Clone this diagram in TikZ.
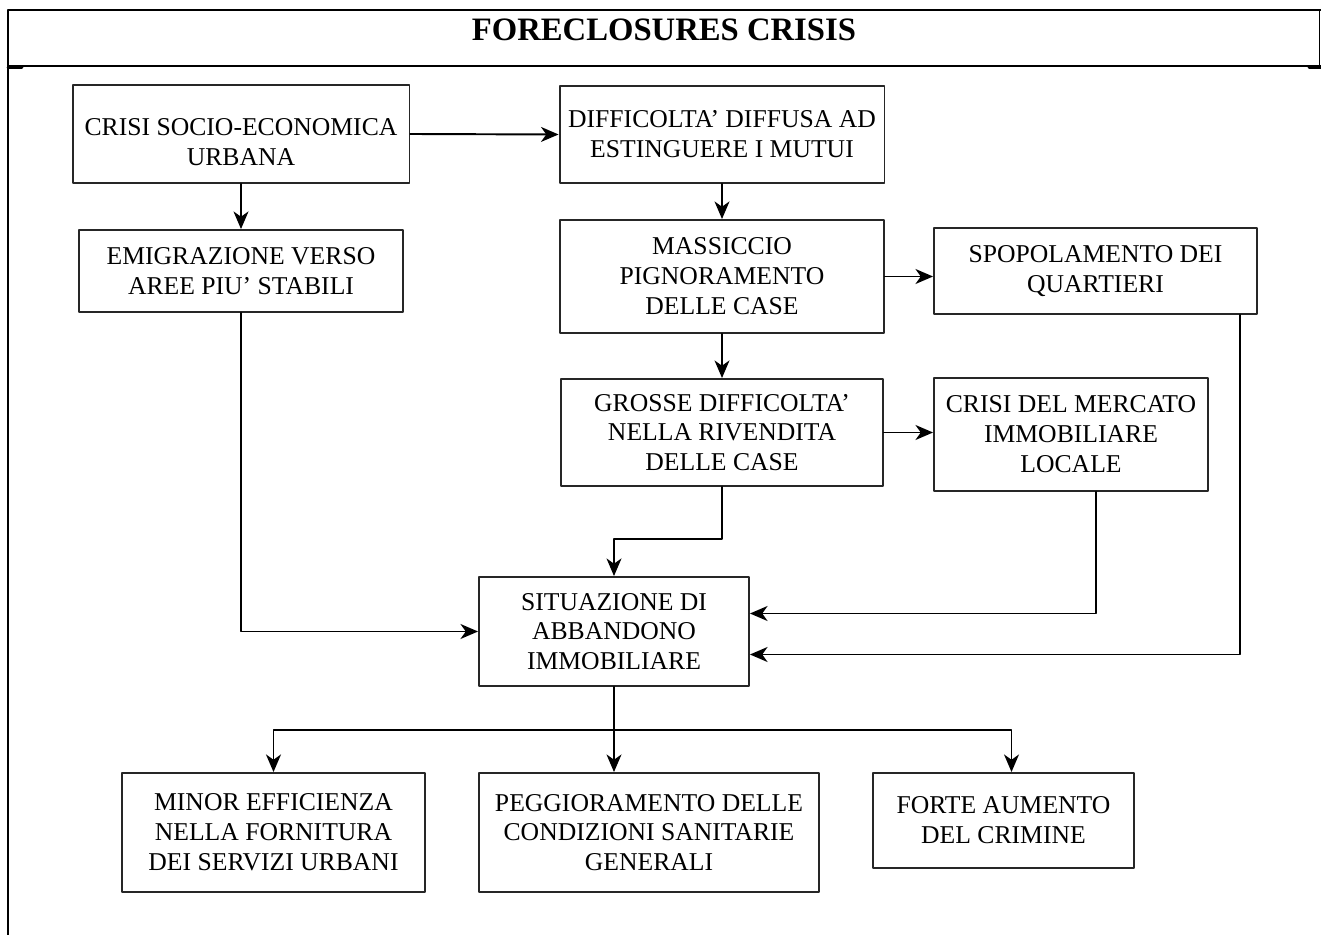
\documentclass[tikz,border=0pt]{standalone}
\usepackage{fontspec}
\setmainfont{Liberation Serif}
\usetikzlibrary{arrows.meta,calc}

\begin{document}
\begin{tikzpicture}[x=0.02cm,y=-0.02cm,line cap=round,line join=round,
  box/.style={draw=black!85,line width=1.1pt,align=center,inner sep=0pt,
    font=\fontsize{14.6}{17}\selectfont},
  arr/.style={-{Stealth[length=10pt,width=8.5pt,inset=3pt]},line width=1.1pt},
  frame/.style={line width=1.1pt}]
  \useasboundingbox (0,0) rectangle (1321,935);
  % cornice della tabella
  \draw[frame] (1321,10) -- (8,10) -- (8,935);
  \draw[frame] (1319.5,10) -- (1319.5,66);
  \draw[frame] (8,66) -- (1321,66);
  \draw[line width=1.6pt] (8,67.5) -- (22,67.5);
  \draw[line width=1.6pt] (1309,67.5) -- (1321,67.5);
  \node[font=\bfseries\fontsize{18.6}{21}\selectfont] (title) at (664,30) {FORECLOSURES CRISIS};

  % caselle
  \node[box,minimum width=6.74cm,minimum height=1.96cm,text height=1.26cm] (crisi) at (241,134) {CRISI SOCIO-ECONOMICA\\URBANA};
  \node[box,minimum width=6.5cm,minimum height=1.94cm] (mutui) at (722,134.5) {DIFFICOLTA' DIFFUSA AD\\ESTINGUERE I MUTUI};
  \node[box,minimum width=6.48cm,minimum height=1.64cm] (emigr) at (241,271) {EMIGRAZIONE VERSO\\AREE PIU' STABILI};
  \node[box,minimum width=6.48cm,minimum height=2.26cm] (pign) at (722,276.5) {MASSICCIO\\PIGNORAMENTO\\DELLE CASE};
  \node[box,minimum width=6.46cm,minimum height=1.72cm] (spop) at (1095.5,271) {SPOPOLAMENTO DEI\\QUARTIERI};
  \node[box,minimum width=6.44cm,minimum height=2.14cm] (rivend) at (722,432.5) {GROSSE DIFFICOLTA'\\NELLA RIVENDITA\\DELLE CASE};
  \node[box,minimum width=5.48cm,minimum height=2.26cm] (mercato) at (1071,434.5) {CRISI DEL MERCATO\\IMMOBILIARE\\LOCALE};
  \node[box,minimum width=5.4cm,minimum height=2.18cm] (abband) at (614,631.5) {SITUAZIONE DI\\ABBANDONO\\IMMOBILIARE};
  \node[box,minimum width=6.06cm,minimum height=2.38cm] (servizi) at (273.5,832.5) {MINOR EFFICIENZA\\NELLA FORNITURA\\DEI SERVIZI URBANI};
  \node[box,minimum width=6.8cm,minimum height=2.38cm] (sanit) at (649,832.5) {PEGGIORAMENTO DELLE\\CONDIZIONI SANITARIE\\GENERALI};
  \node[box,minimum width=5.22cm,minimum height=1.9cm] (crimine) at (1003.5,820.5) {FORTE AUMENTO\\DEL CRIMINE};

  % frecce
  \draw[arr] (crisi.east) -- (mutui.west);
  \draw[arr] (crisi.south) -- (emigr.north);
  \draw[arr] (mutui.south) -- (pign.north);
  \draw[arr] (pign.east) -- (pign.east -| spop.west);
  \draw[arr] (pign.south) -- (rivend.north);
  \draw[arr] (rivend.east) -- (rivend.east -| mercato.west);
  \draw[arr] (rivend.south) -- ++(0,52) -| (abband.north);
  \draw[arr] (emigr.south) |- (abband.west);
  \draw[arr] ($(mercato.south)+(25,0)$) |- ($(abband.east)+(0,-18)$);
  \draw[arr] ($(spop.south east)+(-18,0)$) |- ($(abband.east)+(0,23)$);
  \coordinate (fork) at ($(abband.south)+(0,43)$);
  \draw[arr] (abband.south) -- (abband.south |- sanit.north);
  \draw[arr] (fork) -| (servizi.north);
  \draw[arr] (fork) -| ($(crimine.north)+(8,0)$);
\end{tikzpicture}
\end{document}
